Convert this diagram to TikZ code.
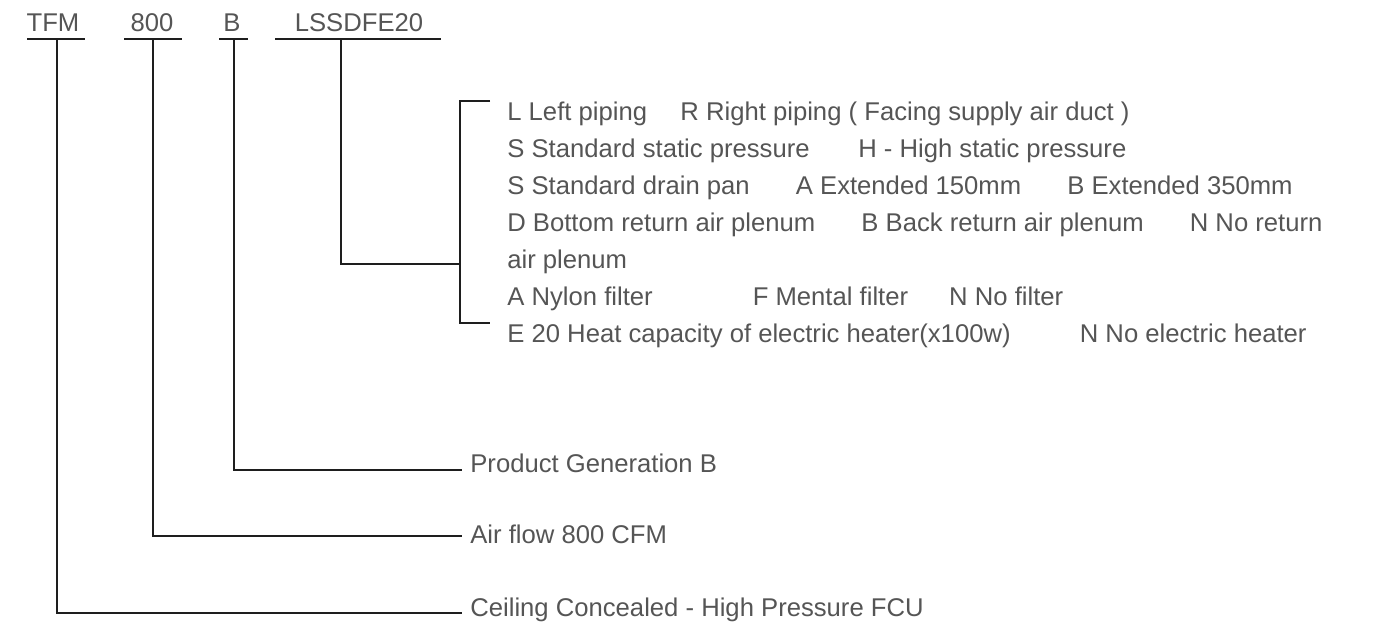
\documentclass[tikz,border=0pt]{standalone}
\usepackage{fontspec}
\setmainfont{Liberation Sans}
\usetikzlibrary{positioning}
\definecolor{labelgray}{HTML}{555555}
\definecolor{leaddark}{HTML}{1E1E1E}
\tikzset{
	code/.style={anchor=base, text=labelgray, inner sep=0pt},
	desc/.style={anchor=base west, text=labelgray, inner sep=0pt},
	lead/.style={draw=leaddark, line width=1.1pt},
}
\begin{document}
\begin{tikzpicture}[x=0.02cm, y=-0.02cm, font=\fontsize{14.6}{18}\selectfont]
				\useasboundingbox (0,0) rectangle (1378,623);
				% Model code
				\node[code] (tfm) at (53,31) {TFM};
				\node[code] (cfm) at (152,31) {800};
				\node[code] (gen) at (232,31) {B};
				\node[code] (opt) at (359,31) {LSSDFE20};
				\draw[lead] (27,39) -- (85,39);
				\draw[lead] (124,39) -- (182,39);
				\draw[lead] (219,39) -- (248,39);
				\draw[lead] (275,39) -- (441,39);
				\coordinate (tfmroot) at (57,39);
				\coordinate (cfmroot) at (153,39);
				\coordinate (genroot) at (234,39);
				\coordinate (optroot) at (341,39);
				
				% Option bracket
				\coordinate (brtop) at (460,101);
				\coordinate (brmid) at (460,264);
				\coordinate (brbot) at (460,323);
				\draw[lead] ([xshift=30*0.02cm]brtop) -- (brtop) -- (brbot) -- ([xshift=30*0.02cm]brbot);
				\draw[lead] (optroot) |- (brmid);
				\foreach \t [count=\i] in {
					{L Left piping\hspace{1.3em}R Right piping ( Facing supply air duct )},
					{S Standard static pressure\hspace{1.9em}H - High static pressure},
					{S Standard drain pan\hspace{1.8em}A Extended 150mm\hspace{1.8em}B Extended 350mm},
					{D Bottom return air plenum\hspace{1.8em}B Back return air plenum\hspace{1.8em}N No return},
					{air plenum},
					{A Nylon filter\hspace{3.9em}F Mental filter\hspace{1.6em}N No filter},
					{E 20 Heat capacity of electric heater(x100w)\hspace{2.7em}N No electric heater}} {
					\node[desc] (line\i) at (507, {83+37*\i}) {\t};
				}
				
				% Descriptions
				\node[desc] (gentext) at (470,472) {Product Generation B};
				\node[desc] (cfmtext) at (470,543) {Air flow 800 CFM};
				\node[desc] (tfmtext) at (470,616) {Ceiling Concealed - High Pressure FCU};
				\coordinate (genend) at (462,470);
				\coordinate (cfmend) at (462,536);
				\coordinate (tfmend) at (462,613);
				\draw[lead] (genroot) |- (genend);
				\draw[lead] (cfmroot) |- (cfmend);
				\draw[lead] (tfmroot) |- (tfmend);
\end{tikzpicture}
\end{document}
